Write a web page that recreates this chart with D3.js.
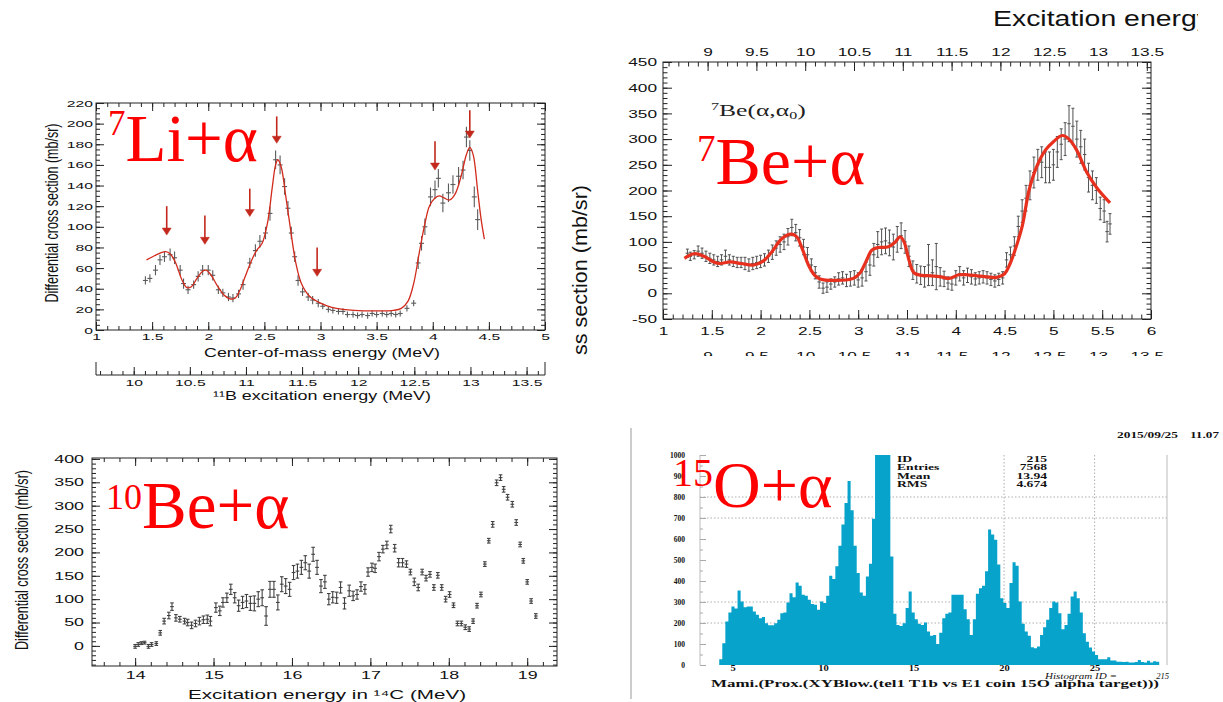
<!DOCTYPE html>
<html>
<head>
<meta charset="utf-8">
<script src="https://cdn.jsdelivr.net/npm/d3@7"></script>
<style>
  body { margin: 0; background: #fff; }
  svg { display: block; }
</style>
</head>
<body>
<svg id="chart" width="1223" height="702"></svg>
<script>
// ---------- panel 1 : 7Li + alpha ----------
var liE = [1.44,1.48,1.53,1.57,1.61,1.66,1.70,1.75,1.78,1.82, 1.87,1.91,1.95,2.00,2.04,2.09,2.13,2.18,2.22,2.27,
           2.31,2.37,2.42,2.46,2.51,2.55,2.60,2.64,2.68,2.71, 2.74,2.77,2.80,2.84,2.89,2.93,2.98,3.02,3.07,3.11,
           3.16,3.20,3.24,3.29,3.33,3.37,3.42,3.46,3.50,3.55, 3.59,3.63,3.67,3.71,3.77,3.83,3.87,3.90,3.93,3.98,
           4.02,4.05,4.09,4.14,4.18,4.23,4.27,4.30,4.33,4.37, 4.40];
var liY = [48,50,58,68,71,73,70,58,45,39, 44,52,58,58,53,39,36,32,31,35,
           44,65,77,86,94,113,165,160,139,118, 94,71,48,37,32,29,26,23,20,19,
           18,18,15,15,14,15,14,16,15,16, 15,16,15,16,21,26,65,84,100,129,
           136,147,123,133,141,149,155,187,174,129, 107];
var liErr = [4,4,5,5,5,6,6,5,5,4, 4,5,5,5,5,4,4,4,4,4,
             5,5,6,6,6,7,9,9,8,7, 6,5,5,4,4,4,4,3,3,3,
             3,3,3,3,3,3,3,3,3,3, 3,3,3,3,3,3,6,7,8,9,
             9,9,9,9,9,9,9,10,10,10, 10];
var liFitE = [1.45,1.52,1.58,1.62,1.66,1.71,1.76,1.81,1.85,1.90,1.95,1.98,2.02,2.08,2.14,2.20,2.24,2.28,2.33,2.38,
              2.43,2.48,2.53,2.57,2.60,2.62,2.65,2.69,2.73,2.78,2.83,2.90,3.00,3.10,3.20,3.30,3.50,3.65,3.72,3.78,
              3.83,3.88,3.93,3.97,4.02,4.06,4.10,4.15,4.20,4.25,4.30,4.33,4.36,4.40,4.43,4.46];
var liFitY = [68,72,75,76,74,65,50,41,42,50,57,58,54,43,34,30,31,38,52,66,
              77,84,105,138,160,165,158,130,100,65,45,33,26,22,20,19,18.5,19,21,28,
              45,75,103,120,128,130,128,126,132,148,170,177,170,135,108,88];
var liArrowE = [1.63, 1.97, 2.37, 2.61, 2.97, 4.02, 4.33];
var liArrowTop = [120, 111, 137, 207, 80, 183, 213];
var liArrowTip = [92, 83, 110, 181, 52, 155, 186];
var liTicks = [1, 1.5, 2, 2.5, 3, 3.5, 4, 4.5, 5];
var liYTicks = [0, 20, 40, 60, 80, 100, 120, 140, 160, 180, 200, 220];
var liExTicks = [10, 10.5, 11, 11.5, 12, 12.5, 13, 13.5];

// ---------- panel 2 : 7Be + alpha ----------
var beE = [1.25,1.28,1.32,1.36,1.40,1.44,1.48,1.52,1.56,1.60, 1.64,1.68,1.72,1.76,1.80,1.84,1.88,1.92,1.96,2.00,
           2.04,2.08,2.12,2.16,2.20,2.24,2.28,2.32,2.36,2.40, 2.44,2.48,2.52,2.56,2.60,2.64,2.68,2.72,2.76,2.80,
           2.84,2.88,2.92,2.96,3.00,3.04,3.08,3.12,3.16,3.20, 3.24,3.28,3.32,3.36,3.40,3.44,3.48,3.52,3.56,3.60,
           3.64,3.68,3.72,3.76,3.80,3.84,3.88,3.92,3.96,4.00, 4.04,4.08,4.12,4.16,4.20,4.24,4.28,4.32,4.36,4.40,
           4.44,4.48,4.52,4.56,4.60,4.64,4.68,4.72,4.76,4.80, 4.84,4.88,4.92,4.96,5.00,5.04,5.08,5.12,5.16,5.20,
           5.24,5.28,5.32,5.36,5.40,5.44,5.48,5.52,5.55,5.58];
var beY = [78,72,75,82,78,72,68,65,62,65, 72,65,62,60,60,58,55,58,60,62,
           65,72,80,88,95,100,110,128,118,108, 90,75,55,40,22,10,12,18,22,28,
           30,25,28,30,26,30,42,55,75,95, 100,102,98,90,105,112,100,72,45,38,
           35,32,55,40,52,32,28,20,18,30, 38,30,35,32,28,30,32,30,27,24,
           27,30,65,75,92,130,160,185,210,235, 250,255,245,245,250,275,290,300,330,325,
           300,285,270,225,210,200,165,160,120,135];
var beErr = [8,8,8,10,10,10,10,10,10,10, 12,10,10,10,10,12,12,12,12,12,
             12,12,14,14,15,15,16,16,16,16, 15,14,12,12,12,10,10,10,10,12,
             12,12,14,14,14,16,18,20,22,25, 25,25,25,25,25,25,22,20,18,18,
             18,20,40,25,45,18,15,12,12,14, 14,14,14,14,12,12,12,12,12,12,
             12,12,14,15,18,20,22,25,28,30, 30,30,30,30,30,30,30,32,35,35,
             35,32,30,28,28,25,22,22,20,20];
var beFitE = [1.22,1.32,1.42,1.52,1.58,1.69,1.80,1.93,2.03,2.12,2.20,2.27,2.32,2.37,2.43,2.49,2.55,2.61,2.75,2.95,
              3.02,3.08,3.14,3.20,3.30,3.38,3.43,3.47,3.52,3.57,3.65,3.75,3.85,3.93,4.03,4.12,4.22,4.32,4.42,4.50,
              4.55,4.60,4.68,4.75,4.83,4.92,5.00,5.09,5.16,5.24,5.34,5.45,5.58];
var beFitY = [68,77,72,61,58,61,58,55,63,82,103,113,115,110,85,55,36,28,25,29,
              40,62,84,89,90,100,110,100,65,40,35,34,32,29,36,36,34,32,31,38,
              55,80,130,200,247,279,295,307,300,278,236,204,176];
var beTicks = [1, 1.5, 2, 2.5, 3, 3.5, 4, 4.5, 5, 5.5, 6];
var beYTicks = [-50, 0, 50, 100, 150, 200, 250, 300, 350, 400, 450];
var beExTicks = [9, 9.5, 10, 10.5, 11, 11.5, 12, 12.5, 13, 13.5];

// ---------- panel 3 : 10Be + alpha ----------
var cE = [14.00,14.04,14.08,14.12,14.17,14.21,14.27,14.32,14.37,14.43, 14.47,14.52,14.57,14.63,14.67,14.72,14.77,14.82,14.87,14.92,
          14.96,15.03,15.08,15.12,15.17,15.22,15.27,15.32,15.37,15.42, 15.47,15.52,15.57,15.62,15.67,15.72,15.77,15.82,15.87,15.92,
          15.97,16.02,16.07,16.12,16.17,16.22,16.27,16.32,16.37,16.42, 16.47,16.52,16.57,16.62,16.67,16.73,16.78,16.83,16.88,16.93,
          16.97,17.02,17.06,17.11,17.16,17.21,17.26,17.31,17.36,17.41, 17.46,17.51,17.56,17.61,17.66,17.71,17.76,17.81,17.86,17.91,
          17.96,18.01,18.06,18.11,18.16,18.21,18.26,18.31,18.36,18.41, 18.46,18.51,18.56,18.61,18.66,18.70,18.75,18.81,18.86,18.91,
          18.95,19.00,19.05,19.11];
var cY = [-1,3,6,7,-1,3,5,28,53,65, 84,60,57,53,50,44,48,53,56,57,
          53,82,75,93,103,121,103,86,93,96, 91,91,100,103,64,121,121,93,132,128,
          121,157,160,168,178,160,196,168,128,137, 100,104,103,125,91,118,107,110,127,121,
          158,168,166,191,207,216,250,209,178,178, 175,158,137,125,158,145,153,125,151,125,
          100,110,87,48,48,40,36,53,86,110, 175,225,260,349,360,335,318,303,264,217,
          182,137,96,64];
var cErr = [4,4,3,3,4,4,4,5,6,7, 8,7,6,6,7,7,7,8,8,9,
            10,10,10,10,10,11,11,12,13,14, 15,16,16,17,20,17,17,16,16,16,
            15,15,15,15,15,15,15,15,14,14, 12,12,12,12,12,12,10,10,10,10,
            9,9,9,9,8,8,8,8,9,9, 7,6,8,7,6,6,6,6,6,6,
            6,6,5,5,5,5,5,5,5,5, 5,5,6,6,6,6,6,6,6,5,
            5,5,5,5];
var cTicks = [14, 15, 16, 17, 18, 19];
var cYTicks = [0, 50, 100, 150, 200, 250, 300, 350, 400];

// ---------- panel 4 : 15O + alpha histogram ----------
var oBinLo = 4.262, oBinW = 0.1688;
var oCounts = [27,104,207,250,279,269,355,302,275,279, 279,255,239,223,228,199,189,189,199,215,
               247,250,298,342,323,393,377,334,330,311, 291,287,263,302,295,330,425,409,470,568,
               669,772,876,737,568,438,345,330,422,482, 696,1080,1250,1300,1220,1100,517,244,191,186,
               199,271,350,250,218,196,191,202,159,139, 143,100,154,223,244,250,334,334,334,334,
               266,218,143,218,339,366,377,446,645,621, 597,478,318,295,271,390,489,473,302,196,
               159,139,84,80,88,143,180,215,271,302, 298,247,170,191,244,326,350,318,250,151,
               111,83,64,48,27,27,27,37,21,21, 16,16,14,16,12,12,14,24,14,12,
               20,12,18,16];
var oTicks = [5, 10, 15, 20, 25];
var oYTicks = [0, 100, 200, 300, 400, 500, 600, 700, 800, 900, 1000];
var oGridY = [200, 300, 700, 800];
var oGridX = [20, 25];
var statLabels = ["ID", "Entries", "Mean", "RMS"];
var statValues = ["215", "7568", "13.94", "4.674"];

var SANS = "'Liberation Sans', Arial, Helvetica, sans-serif";
var SERIF = "'Liberation Serif', 'Times New Roman', serif";
var svg = d3.select("#chart");
var defs = svg.append("defs");

function stretch(sel, sx) {
  sel.each(function () {
    var w = this.getComputedTextLength();
    if (w > 0) d3.select(this).attr("textLength", w * sx).attr("lengthAdjust", "spacingAndGlyphs");
  });
}

function axisG(g, ax, tx, ty, stroke) {
  var a = g.append("g").attr("transform", "translate(" + tx + "," + ty + ")").call(ax);
  a.select(".domain").remove();
  a.attr("font-family", SANS);
  a.selectAll(".tick line").attr("stroke", stroke || "#222");
  a.selectAll(".tick text").attr("fill", "#111");
  return a;
}

function inDomain(sc, vals) {
  var d = sc.domain(), lo = Math.min(d[0], d[1]) - 1e-9, hi = Math.max(d[0], d[1]) + 1e-9;
  return vals.filter(function (v) { return v >= lo && v <= hi; });
}

// ROOT style frame: ticks pointing inwards on all four sides
function rootFrame(g, o) {
  var xr = o.x.range(), yr = o.y.range();
  g.append("rect").attr("x", xr[0]).attr("y", yr[1]).attr("width", xr[1] - xr[0]).attr("height", yr[0] - yr[1])
    .attr("fill", "none").attr("stroke", "#222");
  var fmt = function (d) { return String(d); };
  var sides = [
    ["axisBottom", o.x, 0, yr[0], o.xMajor, o.xMinor, true, o.padX],
    ["axisTop", o.xTop || o.x, 0, yr[1], o.xTopMajor || o.xMajor, o.xTopMinor || o.xMinor, !!o.labelTop, o.padTop],
    ["axisLeft", o.y, xr[0], 0, o.yMajor, o.yMinor, true, o.padY],
    ["axisRight", o.y, xr[1], 0, o.yMajor, o.yMinor, false, 3]
  ];
  sides.forEach(function (s) {
    axisG(g, d3[s[0]](s[1]).tickValues(inDomain(s[1], s[5])).tickSize(-o.minorLen).tickFormat(""), s[2], s[3]);
    var a = axisG(g, d3[s[0]](s[1]).tickValues(inDomain(s[1], s[4])).tickSize(-o.majorLen)
      .tickPadding(s[7]).tickFormat(s[6] ? fmt : ""), s[2], s[3]);
    a.attr("font-size", o.fontSize);
    if (s[6]) stretch(a.selectAll("text"), o.sx);
  });
}

function errBars(g, x, y, E, V, Err, o) {
  var gg = g.append("g").attr("stroke", o.color).attr("stroke-width", o.w || 1).attr("opacity", o.op || 1);
  var idx = d3.range(E.length);
  gg.selectAll(".v").data(idx).enter().append("line")
    .attr("x1", function (i) { return x(E[i]); }).attr("x2", function (i) { return x(E[i]); })
    .attr("y1", function (i) { return y(V[i] + Err[i]); }).attr("y2", function (i) { return y(V[i] - Err[i]); });
  gg.selectAll(".h").data(idx).enter().append("line")
    .attr("x1", function (i) { return x(E[i] - o.dx); }).attr("x2", function (i) { return x(E[i] + o.dx); })
    .attr("y1", function (i) { return y(V[i]); }).attr("y2", function (i) { return y(V[i]); });
  if (o.cap) {
    [1, -1].forEach(function (sgn) {
      gg.selectAll(".c").data(idx).enter().append("line")
        .attr("x1", function (i) { return x(E[i]) - o.cap; }).attr("x2", function (i) { return x(E[i]) + o.cap; })
        .attr("y1", function (i) { return y(V[i] + sgn * Err[i]); }).attr("y2", function (i) { return y(V[i] + sgn * Err[i]); });
    });
  }
}

function fitLine(g, x, y, FE, FY, color, w) {
  var line = d3.line().x(function (i) { return x(FE[i]); }).y(function (i) { return y(FY[i]); })
    .curve(d3.curveCatmullRom.alpha(0.5));
  g.append("path").attr("d", line(d3.range(FE.length))).attr("fill", "none")
    .attr("stroke", color).attr("stroke-width", w).attr("stroke-linejoin", "round");
}

function redLabel(x, y, sup, supSize, rise, main, mainSize) {
  var t = svg.append("text").attr("x", x).attr("y", y).attr("font-family", SERIF).attr("fill", "#ff0000");
  t.append("tspan").attr("font-size", supSize).attr("dy", -rise).text(sup);
  t.append("tspan").attr("font-size", mainSize).attr("dy", rise).text(main);
}

function clipRect(id, x, y, w, h) {
  defs.append("clipPath").attr("id", id).append("rect").attr("x", x).attr("y", y).attr("width", w).attr("height", h);
  return "url(#" + id + ")";
}

// ================= panel 1 =================
(function () {
  var g = svg.append("g");
  var x = d3.scaleLinear().domain([1, 5]).range([96, 545]);
  var y = d3.scaleLinear().domain([0, 220]).range([330, 103]);
  var ex = d3.scaleLinear().domain([1 + 8.664, 5 + 8.664]).range([96, 545]);

  errBars(g, x, y, liE, liY, liErr, { color: "#333", dx: 0.022, op: 0.8, w: 1.1 });
  fitLine(g, x, y, liFitE, liFitY, "#d22a1c", 1.3);

  var ag = g.append("g").attr("fill", "#c3281d").attr("stroke", "#c3281d");
  liArrowE.forEach(function (e, i) {
    var cx = x(e), yt = y(liArrowTop[i]), yp = y(liArrowTip[i]);
    ag.append("line").attr("x1", cx).attr("x2", cx).attr("y1", yt).attr("y2", yp - 6).attr("stroke-width", 1.6);
    ag.append("path").attr("d", "M" + (cx - 4.5) + "," + (yp - 7) + "L" + (cx + 4.5) + "," + (yp - 7) + "L" + cx + "," + yp + "Z")
      .attr("stroke-width", 0.5);
  });

  rootFrame(g, {
    x: x, y: y, xMajor: liTicks, xMinor: d3.range(1, 5.001, 0.1),
    yMajor: liYTicks, yMinor: d3.range(0, 220.1, 5),
    majorLen: 8, minorLen: 4, fontSize: 9.5, sx: 1.65, padX: 3, padY: 3, padTop: 3
  });

  // secondary 11B excitation energy axis
  var sy = 375;
  g.append("line").attr("x1", 96).attr("x2", 545).attr("y1", sy).attr("y2", sy).attr("stroke", "#222");
  [96, 545].forEach(function (v) {
    g.append("line").attr("x1", v).attr("x2", v).attr("y1", sy - 13).attr("y2", sy).attr("stroke", "#222");
  });
  axisG(g, d3.axisBottom(ex).tickValues(inDomain(ex, d3.range(9.7, 13.65, 0.1))).tickSize(-4).tickFormat(""), 0, sy);
  var sa = axisG(g, d3.axisBottom(ex).tickValues(liExTicks).tickSize(-8).tickPadding(4).tickFormat(String), 0, sy);
  sa.attr("font-size", 9.5);
  stretch(sa.selectAll("text"), 1.65);

  g.append("text").attr("x", 322).attr("y", 357).attr("text-anchor", "middle").attr("font-family", SANS)
    .attr("font-size", 12.5).attr("textLength", 236).attr("lengthAdjust", "spacingAndGlyphs").attr("fill", "#111")
    .text("Center-of-mass energy (MeV)");
  g.append("text").attr("x", 322).attr("y", 400).attr("text-anchor", "middle").attr("font-family", SANS)
    .attr("font-size", 12.5).attr("textLength", 218).attr("lengthAdjust", "spacingAndGlyphs").attr("fill", "#111")
    .text("\u00B9\u00B9B excitation energy (MeV)");
  g.append("text").attr("transform", "translate(58,213) rotate(-90) scale(1,1.5)").attr("text-anchor", "middle")
    .attr("font-family", SANS).attr("font-size", 12.5).attr("textLength", 179).attr("lengthAdjust", "spacingAndGlyphs")
    .attr("fill", "#111").text("Differential cross section (mb/sr)");

  // cropped y title of the neighbouring panel
  g.append("text").attr("transform", "translate(587,355) rotate(-90)").attr("font-family", SANS)
    .attr("font-size", 20).attr("textLength", 170).attr("lengthAdjust", "spacingAndGlyphs").attr("fill", "#111")
    .text("ss section (mb/sr)");

  redLabel(108, 161, "7", 35, 26, "Li+\u03B1", 67);
})();

// ================= panel 2 =================
(function () {
  var g = svg.append("g");
  var Q = 7.543;
  var x = d3.scaleLinear().domain([1, 6]).range([663, 1151]);
  var y = d3.scaleLinear().domain([-50, 450]).range([319, 62]);
  var ex = d3.scaleLinear().domain([1 + Q, 6 + Q]).range([663, 1151]);

  errBars(g, x, y, beE, beY, beErr, { color: "#333", dx: 0.018, cap: 1.5, op: 0.85 });
  fitLine(g, x, y, beFitE, beFitY, "#e8301e", 3.2);

  rootFrame(g, {
    x: x, y: y, xMajor: beTicks, xMinor: d3.range(1, 6.001, 0.1),
    xTop: ex, xTopMajor: beExTicks, xTopMinor: d3.range(8.6, 13.6, 0.1), labelTop: true,
    yMajor: beYTicks, yMinor: d3.range(-50, 450.1, 10),
    majorLen: 9, minorLen: 4.5, fontSize: 11.5, sx: 1.5, padX: 8, padY: 6, padTop: 6
  });

  // lower Ex axis labels, cut off by the crop
  var cut = g.append("g").attr("clip-path", clipRect("cut2", 640, 340, 560, 16));
  var ca = axisG(cut, d3.axisBottom(ex).tickValues(beExTicks).tickSize(0).tickPadding(0).tickFormat(String), 0, 352);
  ca.attr("font-size", 11.5);
  stretch(ca.selectAll("text"), 1.5);

  var top = svg.append("g").attr("clip-path", clipRect("cut1", 980, 0, 218, 40));
  top.append("text").attr("x", 993).attr("y", 26).attr("font-family", SANS).attr("font-size", 21.5)
    .attr("textLength", 218).attr("lengthAdjust", "spacingAndGlyphs").attr("fill", "#111").text("Excitation energy");

  var lab = g.append("text").attr("transform", "translate(711,116) scale(1.6,1)").attr("font-family", SERIF).attr("fill", "#222");
  lab.append("tspan").attr("font-size", 10).attr("dy", -6).text("7");
  lab.append("tspan").attr("font-size", 16).attr("dy", 6).text("Be(\u03B1,\u03B1");
  lab.append("tspan").attr("font-size", 10).attr("dy", 3).text("0");
  lab.append("tspan").attr("font-size", 16).attr("dy", -3).text(")");

  redLabel(697, 184, "7", 37, 23, "Be+\u03B1", 68);
})();

// ================= panel 3 =================
(function () {
  var g = svg.append("g");
  var x = d3.scaleLinear().domain([13.45, 19.38]).range([92, 557]);
  var y = d3.scaleLinear().domain([-43, 402]).range([666, 458]);

  errBars(g, x, y, cE, cY, cErr, { color: "#222", dx: 0.024, cap: 1.8, op: 0.85, w: 1.1 });

  rootFrame(g, {
    x: x, y: y, xMajor: cTicks, xMinor: d3.range(13.6, 19.38, 0.2),
    yMajor: cYTicks, yMinor: d3.range(-40, 402, 10),
    majorLen: 8, minorLen: 4, fontSize: 10.5, sx: 1.7, padX: 6, padY: 8, padTop: 3
  });

  g.append("text").attr("x", 327).attr("y", 699).attr("text-anchor", "middle").attr("font-family", SANS)
    .attr("font-size", 12.5).attr("textLength", 278).attr("lengthAdjust", "spacingAndGlyphs").attr("fill", "#111")
    .text("Excitation energy in \u00B9\u2074C (MeV)");
  g.append("text").attr("transform", "translate(28,560) rotate(-90) scale(1,1.5)").attr("text-anchor", "middle")
    .attr("font-family", SANS).attr("font-size", 12.5).attr("textLength", 180).attr("lengthAdjust", "spacingAndGlyphs")
    .attr("fill", "#111").text("Differential cross section (mb/sr)");

  redLabel(106, 528, "10", 36, 19, "Be+\u03B1", 67);
})();

// ================= panel 4 =================
(function () {
  var g = svg.append("g");
  var x = d3.scaleLinear().domain([3.2, 29]).range([700, 1167]);
  var y = d3.scaleLinear().domain([0, 1000]).range([665, 455]);

  svg.append("line").attr("x1", 631).attr("x2", 631).attr("y1", 428).attr("y2", 699).attr("stroke", "#999");

  var grid = g.append("g").attr("stroke", "#999").attr("stroke-dasharray", "1.5,2").attr("stroke-width", 0.8);
  oGridY.forEach(function (v) {
    grid.append("line").attr("x1", 700).attr("x2", 1167).attr("y1", y(v)).attr("y2", y(v));
  });
  oGridX.forEach(function (v) {
    grid.append("line").attr("x1", x(v)).attr("x2", x(v)).attr("y1", 455).attr("y2", 665);
  });

  // filled histogram as one stepped area, no seams between bins
  var idx = d3.range(oCounts.length + 1);
  var area = d3.area()
    .x(function (i) { return x(oBinLo + i * oBinW); })
    .y0(y(0))
    .y1(function (i) { return y(oCounts[Math.min(i, oCounts.length - 1)]); })
    .curve(d3.curveStepAfter);
  g.append("path").attr("clip-path", clipRect("hist", 700, 455, 467, 211))
    .attr("d", area(idx)).attr("fill", "#07a3cb");

  g.append("line").attr("x1", 700).attr("x2", 700).attr("y1", 455).attr("y2", 665).attr("stroke", "#bbb");
  g.append("line").attr("x1", 1167).attr("x2", 1167).attr("y1", 455).attr("y2", 665).attr("stroke", "#bbb");
  axisG(g, d3.axisRight(y).tickValues(d3.range(0, 1001, 50)).tickSize(3).tickFormat(""), 700, 0, "#aaa");
  var ya = axisG(g, d3.axisLeft(y).tickValues(oYTicks).tickSize(-6).tickPadding(15).tickFormat(String), 700, 0, "#aaa");
  ya.attr("font-family", SERIF).attr("font-size", 7.5).attr("font-weight", "bold");
  var xa = axisG(g, d3.axisBottom(x).tickValues(oTicks).tickSize(0).tickPadding(1).tickFormat(String), 0, 665);
  xa.attr("font-family", SERIF).attr("font-size", 7.5).attr("font-weight", "bold");
  stretch(xa.selectAll("text"), 1.4);

  var st = g.append("g").attr("font-family", SERIF).attr("font-size", 8).attr("font-weight", "bold").attr("fill", "#111");
  statLabels.forEach(function (s, i) {
    st.append("text").attr("x", 897).attr("y", 462 + i * 8.3).text(s);
    st.append("text").attr("x", 1047).attr("y", 462 + i * 8.3).attr("text-anchor", "end").text(statValues[i]);
  });
  stretch(st.selectAll("text"), 1.7);

  var tx = g.append("g").attr("font-family", SERIF).attr("fill", "#111");
  tx.append("text").attr("x", 1117).attr("y", 438).attr("font-size", 7.5).attr("font-weight", "bold")
    .attr("textLength", 61).attr("lengthAdjust", "spacingAndGlyphs").text("2015/09/25");
  tx.append("text").attr("x", 1219).attr("y", 438).attr("text-anchor", "end").attr("font-size", 7.5).attr("font-weight", "bold")
    .attr("textLength", 29).attr("lengthAdjust", "spacingAndGlyphs").text("11.07");
  tx.append("text").attr("x", 1045).attr("y", 679).attr("font-size", 8.5).attr("font-style", "italic")
    .attr("textLength", 72).attr("lengthAdjust", "spacingAndGlyphs").text("Histogram ID =");
  tx.append("text").attr("x", 1169).attr("y", 679).attr("text-anchor", "end").attr("font-size", 8.5).attr("font-style", "italic").text("215");
  tx.append("text").attr("x", 711).attr("y", 687).attr("font-size", 11).attr("font-weight", "bold")
    .attr("textLength", 448).attr("lengthAdjust", "spacingAndGlyphs")
    .text("Mami.(Prox.(XYBlow.(tel1 T1b vs E1 coin 15O alpha target)))");

  redLabel(673, 507, "15", 40, 21, "O+\u03B1", 66);
})();
</script>
</body>
</html>
